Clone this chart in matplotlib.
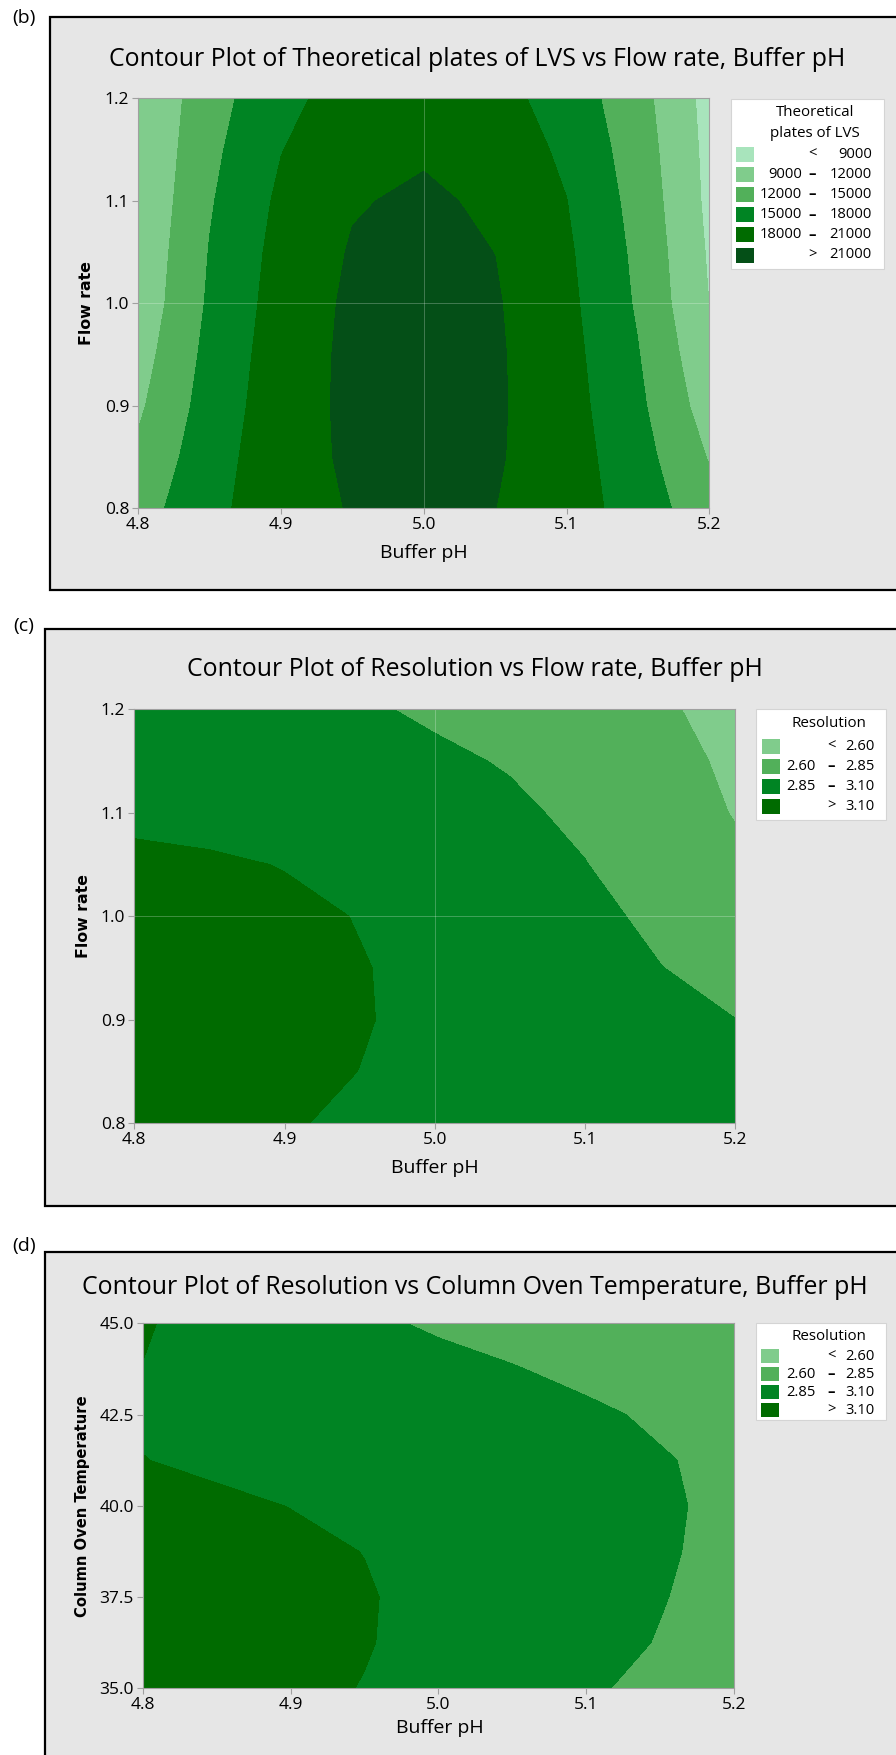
import numpy as np
import matplotlib
matplotlib.use("Agg")
import matplotlib.pyplot as plt
from matplotlib.patches import Rectangle

W, H = 896, 1755

# factor settings
ph = [4.80, 4.85, 4.90, 4.95, 5.00, 5.05, 5.10, 5.15, 5.20]
flow = [0.80, 0.85, 0.90, 0.95, 1.00, 1.05, 1.10, 1.15, 1.20]
temp = [35.0, 36.25, 37.5, 38.75, 40.0, 41.25, 42.5, 43.75, 45.0]

# theoretical plates of LVS, rows = flow rate, cols = buffer pH
plates = [
    [13706, 17229, 19722, 21184, 21617, 21019, 19392, 16735, 13047],
    [12588, 16778, 19742, 21482, 21996, 21286, 19350, 16190, 11804],
    [11520, 16274, 19638, 21612, 22196, 21389, 19193, 15607, 10631],
    [10725, 15855, 19485, 21615, 22245, 21375, 19005, 15135, 9765],
    [9983, 15412, 19254, 21508, 22175, 21254, 18746, 14650, 8967],
    [9684, 15122, 18969, 21227, 21895, 20973, 18460, 14358, 8666],
    [9349, 14735, 18547, 20783, 21445, 20531, 18043, 13979, 8341],
    [9155, 14285, 17915, 20045, 20675, 19805, 17435, 13565, 8195],
    [9100, 13774, 17211, 19227, 19823, 19000, 16756, 13093, 8009],
]

# resolution, rows = flow rate, cols = buffer pH
res_flow = [
    [3.16, 3.14, 3.11, 3.08, 3.05, 3.01, 2.97, 2.935, 2.90],
    [3.19, 3.165, 3.13, 3.099, 3.06, 3.02, 2.97, 2.93, 2.89],
    [3.20, 3.18, 3.15, 3.108, 3.07, 3.02, 2.96, 2.905, 2.852],
    [3.20, 3.18, 3.15, 3.106, 3.07, 3.01, 2.94, 2.855, 2.77],
    [3.18, 3.16, 3.13, 3.095, 3.05, 2.99, 2.91, 2.80, 2.70],
    [3.14, 3.12, 3.095, 3.05, 2.995, 2.935, 2.855, 2.75, 2.64],
    [3.06, 3.05, 3.01, 2.965, 2.925, 2.885, 2.81, 2.70, 2.59],
    [3.03, 3.00, 2.96, 2.92, 2.885, 2.835, 2.74, 2.655, 2.57],
    [2.98, 2.95, 2.91, 2.875, 2.82, 2.75, 2.69, 2.62, 2.55],
]

# resolution, rows = column oven temperature, cols = buffer pH
res_temp = [
    [3.20, 3.17, 3.135, 3.095, 3.04, 2.97, 2.88, 2.79, 2.70],
    [3.20, 3.175, 3.145, 3.108, 3.056, 2.99, 2.92, 2.84, 2.76],
    [3.19, 3.17, 3.14, 3.11, 3.06, 3.00, 2.935, 2.86, 2.775],
    [3.17, 3.15, 3.125, 3.098, 3.06, 3.01, 2.955, 2.875, 2.79],
    [3.14, 3.12, 3.098, 3.07, 3.035, 2.995, 2.95, 2.88, 2.80],
    [3.102, 3.08, 3.06, 3.03, 2.995, 2.96, 2.92, 2.865, 2.80],
    [3.088, 3.07, 3.04, 3.00, 2.965, 2.93, 2.885, 2.82, 2.76],
    [3.097, 3.06, 3.015, 2.96, 2.915, 2.86, 2.80, 2.75, 2.71],
    [3.115, 3.035, 2.97, 2.89, 2.82, 2.77, 2.73, 2.69, 2.66],
]

plate_levels = [9000, 12000, 15000, 18000, 21000]
res_levels = [2.60, 2.85, 3.10]

greens = ["#a8e4bc", "#80cc8c", "#52b05a", "#008423", "#006b00", "#044f17"]

ph_ticks = [4.8, 4.9, 5.0, 5.1, 5.2]
flow_ticks = [0.8, 0.9, 1.0, 1.1, 1.2]
temp_ticks = [35.0, 37.5, 40.0, 42.5, 45.0]

BG = "#e6e6e6"
AXIS_GRAY = "#a0a0a0"
SANS = ["Open Sans", "DejaVu Sans"]
TITLE_SIZE = 17.9
LEG_SIZE = 10.6

fig = plt.figure(figsize=(W / 100, H / 100), dpi=100)


def fx(x):
    return x / W


def fy(y):
    return 1 - y / H


def frame(left, top, right, bottom, tag, tag_y):
    fig.patches.append(Rectangle((fx(left), fy(bottom)), (right - left) / W, (bottom - top) / H,
                                 transform=fig.transFigure, facecolor=BG, edgecolor="black",
                                 linewidth=1.6, zorder=-5))
    fig.text(fx(24), fy(tag_y), tag, ha="center", va="center", fontsize=14, family=SANS)


def legend(box, title_lines, title_y, levels, colors, row_y0, row_step, patch_x, patch_h,
           num_right, sym_x, val_right, fmt):
    l, t, r, b = box
    fig.patches.append(Rectangle((fx(l), fy(b)), (r - l) / W, (b - t) / H, transform=fig.transFigure,
                                 facecolor="white", edgecolor="#d4d4d4", linewidth=0.8, zorder=1))
    cx = (l + r) / 2 + 8
    for i, line in enumerate(title_lines):
        fig.text(fx(cx), fy(title_y + i * 21), line, ha="center", va="center",
                 fontsize=LEG_SIZE + 0.3, family=SANS)
    n = len(levels) + 1
    for i in range(n):
        yc = row_y0 + i * row_step
        fig.patches.append(Rectangle((fx(patch_x), fy(yc + patch_h / 2)), 18 / W, patch_h / H,
                                     transform=fig.transFigure, facecolor=colors[i],
                                     edgecolor="none", zorder=2))
        if i == 0:
            sym, lo, hi = "<", None, levels[0]
        elif i == n - 1:
            sym, lo, hi = ">", None, levels[-1]
        else:
            sym, lo, hi = "–", levels[i - 1], levels[i]
        if lo is not None:
            fig.text(fx(num_right), fy(yc), fmt.format(lo), ha="right", va="center",
                     fontsize=LEG_SIZE, family=SANS)
        fig.text(fx(sym_x), fy(yc), sym, ha="center", va="center", fontsize=LEG_SIZE, family=SANS,
                 fontweight="bold" if sym == "–" else "normal")
        fig.text(fx(val_right), fy(yc), fmt.format(hi), ha="right", va="center",
                 fontsize=LEG_SIZE, family=SANS)


def contour_axes(box, x, y, z, levels, colors, yticks, lo, hi, ref_lines):
    l, t, r, b = box
    ax = fig.add_axes([fx(l), fy(b), (r - l) / W, (b - t) / H])
    ax.contourf(x, y, np.array(z), levels=[lo] + levels + [hi], colors=colors)
    if ref_lines:
        ax.axvline(5.0, color="white", alpha=0.25, linewidth=0.7)
        ax.axhline(ref_lines, color="white", alpha=0.25, linewidth=0.7)
    ax.set_xlim(4.8, 5.2)
    ax.set_ylim(yticks[0], yticks[-1])
    ax.set_xticks(ph_ticks)
    ax.set_xticklabels([f"{v:.1f}" for v in ph_ticks])
    ax.set_yticks(yticks)
    ax.set_yticklabels([f"{v:.1f}" for v in yticks])
    ax.tick_params(direction="out", length=4, width=0.8, color=AXIS_GRAY, pad=2.5,
                   labelsize=12.5, labelcolor="black")
    for lab in ax.get_xticklabels() + ax.get_yticklabels():
        lab.set_family(SANS)
    for s in ax.spines.values():
        s.set_color(AXIS_GRAY)
        s.set_linewidth(0.8)
    return ax


# (b) theoretical plates vs flow rate and buffer pH
frame(50, 17, 910, 590, "(b)", 18.5)
fig.text(fx(477), fy(59), "Contour Plot of Theoretical plates of LVS vs Flow rate, Buffer pH",
         ha="center", va="center", fontsize=TITLE_SIZE, family=SANS)
contour_axes((138.3, 98.3, 709.3, 508.3), ph, flow, plates, plate_levels, greens,
             flow_ticks, 0, 40000, 1.0)
fig.text(fx(424), fy(553), "Buffer pH", ha="center", va="center", fontsize=14, family=SANS)
fig.text(fx(86), fy(303.3), "Flow rate", ha="center", va="center", rotation=90,
         fontsize=11.3, fontweight="bold", family="DejaVu Sans")
legend((730.5, 99, 884, 269), ["Theoretical", "plates of LVS"], 112.3, plate_levels, greens,
       154, 20.2, 736, 15, 801.7, 812, 871.7, "{:d}")

# (c) resolution vs flow rate and buffer pH
frame(45, 629, 910, 1205.5, "(c)", 626)
fig.text(fx(475), fy(669.6), "Contour Plot of Resolution vs Flow rate, Buffer pH",
         ha="center", va="center", fontsize=TITLE_SIZE, family=SANS)
contour_axes((134.3, 709.3, 735.3, 1123.3), ph, flow, res_flow, res_levels, greens[1:5],
             flow_ticks, 0, 10, 1.0)
fig.text(fx(435), fy(1167.6), "Buffer pH", ha="center", va="center", fontsize=14, family=SANS)
fig.text(fx(83), fy(916.3), "Flow rate", ha="center", va="center", rotation=90,
         fontsize=11.3, fontweight="bold", family="DejaVu Sans")
legend((756, 709.3, 885.7, 820), ["Resolution"], 723.3, res_levels, greens[1:5],
       746, 20.2, 762, 15, 816, 831, 875, "{:.2f}")

# (d) resolution vs column oven temperature and buffer pH
frame(45, 1252, 910, 1770, "(d)", 1246)
fig.text(fx(475), fy(1288), "Contour Plot of Resolution vs Column Oven Temperature, Buffer pH",
         ha="center", va="center", fontsize=TITLE_SIZE, family=SANS)
contour_axes((142.7, 1323.3, 734, 1688.3), ph, temp, res_temp, res_levels, greens[1:5],
             temp_ticks, 0, 10, None)
fig.text(fx(440), fy(1728), "Buffer pH", ha="center", va="center", fontsize=14, family=SANS)
fig.text(fx(82), fy(1505.8), "Column Oven Temperature", ha="center", va="center", rotation=90,
         fontsize=10.6, fontweight="bold", family="DejaVu Sans")
legend((756, 1323.3, 885.7, 1420), ["Resolution"], 1336, res_levels, greens[1:5],
       1356, 18, 761, 14, 816, 831, 874.3, "{:.2f}")

fig.savefig("out.png", dpi=100, facecolor="white")
